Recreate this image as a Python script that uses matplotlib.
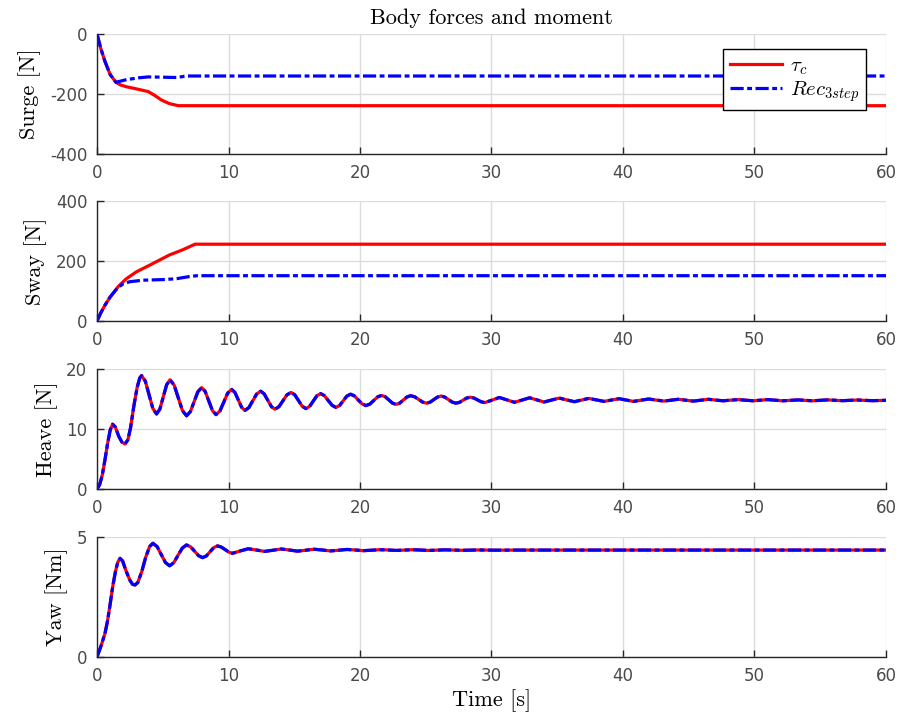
import numpy as np
import matplotlib
matplotlib.use("Agg")
import matplotlib.pyplot as plt

plt.rcParams['mathtext.fontset'] = 'cm'
plt.rcParams['lines.scale_dashes'] = False
plt.rcParams['axes.unicode_minus'] = False

# surge [N]
surge_t_tau = [0, 0.3, 0.61, 1.0, 1.44, 1.8, 2.25, 3.0, 3.9, 4.4, 4.9, 5.5, 6.18, 60]
surge_tau = [0, -50, -92, -135, -161, -170, -176, -183, -192, -205, -220, -232, -239, -239]
surge_t_rec = [0, 0.3, 0.61, 1.0, 1.44, 2.25, 3.2, 3.9, 5.0, 6.05, 6.8, 7.3, 60]
surge_rec = [0, -50, -92, -135, -161, -152, -146, -143, -144, -145, -140, -140, -140]

# sway [N]
sway_t_tau = [0, 0.3, 0.61, 1.0, 1.6, 2.2, 3.0, 4.0, 5.5, 6.5, 7.45, 60]
sway_tau = [0, 28, 53, 80, 114, 140, 164, 186, 220, 237, 256, 256]
sway_t_rec = [0, 0.3, 0.61, 1.0, 1.6, 2.0, 2.5, 3.5, 5.0, 6.06, 7.0, 7.6, 60]
sway_rec = [0, 28, 53, 80, 112, 124, 131, 136, 138, 141, 148, 151, 151]

# heave [N] (both signals overlap)
heave_t = [0, 0.2, 0.4, 0.6, 0.8, 1.0, 1.19, 1.4, 1.65, 1.9, 2.13, 2.35, 2.55, 2.8, 3.05, 3.25, 3.39,
           3.675, 3.96, 4.245, 4.53, 4.785, 5.04, 5.295, 5.55, 5.865, 6.18, 6.495, 6.81,
           7.1, 7.385, 7.67, 7.96, 8.23, 8.505, 8.78, 9.05, 9.35, 9.645, 9.94, 10.24,
           10.49, 10.745, 11.0, 11.25, 11.55, 11.845, 12.14, 12.44, 12.71, 12.985, 13.26, 13.53,
           13.835, 14.14, 14.445, 14.75, 15.035, 15.32, 15.605, 15.89, 16.17, 16.445, 16.72, 17.0,
           17.29, 17.585, 17.88, 18.17, 18.45, 18.725, 19.0, 19.28, 19.57, 19.865, 20.16, 20.45,
           20.75, 21.045, 21.34, 21.64, 21.915, 22.19, 22.465, 22.74, 23.02, 23.295, 23.57, 23.85,
           24.155, 24.46, 24.765, 25.07, 25.34, 25.615, 25.89, 26.16, 26.445, 26.73, 27.015, 27.3,
           27.57, 27.835, 28.1, 28.37, 28.65, 28.935, 29.22, 29.5,
           30.05, 30.6, 31.175, 31.75, 32.33, 32.9, 33.45, 34.0, 34.58, 35.15, 35.73, 36.3,
           36.85, 37.4, 37.98, 38.55, 39.13, 39.7, 40.25, 40.8, 41.38, 41.95, 42.53, 43.1,
           43.65, 44.2, 45.35, 46.5, 47.6, 48.75, 49.9, 51.0, 52.15, 53.3, 54.4, 55.55,
           56.7, 57.8, 58.95, 60]
heave = [0, 0.7, 2.3, 4.8, 7.5, 9.8, 10.8, 10.3, 8.8, 7.8, 7.5, 8.2, 10.2, 13.8, 16.9, 18.5, 18.9,
         17.97, 15.7, 13.43, 12.5, 13.33, 15.35, 17.37, 18.2, 17.32, 15.2, 13.08, 12.2,
         12.89, 14.55, 16.21, 16.9, 16.24, 14.65, 13.06, 12.4, 13.01, 14.5, 15.99, 16.6,
         16.09, 14.85, 13.61, 13.1, 13.57, 14.7, 15.83, 16.3, 15.86, 14.8, 13.74, 13.3,
         13.71, 14.7, 15.69, 16.1, 15.71, 14.75, 13.79, 13.4, 13.77, 14.65, 15.54, 15.9,
         15.56, 14.75, 13.94, 13.6, 13.92, 14.7, 15.48, 15.8, 15.52, 14.85, 14.18, 13.9,
         14.15, 14.75, 15.35, 15.6, 15.38, 14.85, 14.32, 14.1, 14.31, 14.83, 15.34, 15.55,
         15.37, 14.93, 14.48, 14.3, 14.48, 14.9, 15.32, 15.5, 15.32, 14.9, 14.48, 14.3,
         14.45, 14.8, 15.15, 15.3, 15.17, 14.85, 14.53, 14.4,
         14.83, 15.25, 14.85, 14.45, 14.83, 15.2, 14.85, 14.5, 14.83, 15.15, 14.85, 14.55,
         14.83, 15.1, 14.85, 14.6, 14.83, 15.05, 14.83, 14.6, 14.8, 15.0, 14.83, 14.65,
         14.8, 14.95, 14.65, 14.95, 14.7, 14.9, 14.7, 14.9, 14.7, 14.85, 14.7, 14.85,
         14.72, 14.83, 14.72, 14.78]

# yaw [Nm] (both signals overlap)
yaw_t = [0, 0.3, 0.61, 0.8, 1.0, 1.2, 1.4, 1.58, 1.75, 1.95, 2.2, 2.5, 2.7, 2.89, 3.1, 3.4, 3.7, 4.0, 4.25,
         4.57, 4.885, 5.2, 5.52, 5.84, 6.165, 6.49, 6.81, 7.115, 7.42, 7.725, 8.03,
         8.315, 8.6, 8.885, 9.17, 9.45, 9.735, 10.02, 10.3, 10.9, 11.5, 12.1, 12.75, 13.4, 14.0,
         14.6, 15.25, 15.9, 16.5, 17.1, 17.75, 18.4, 19.0, 19.6, 20.25, 20.9, 21.5, 22.1, 22.75,
         24.0, 25.25, 26.5, 27.75, 29.0, 30.25, 32.0, 60]
yaw = [0, 0.45, 0.99, 1.5, 2.2, 2.95, 3.55, 3.95, 4.11, 4.0, 3.6, 3.2, 3.03, 3.0, 3.1, 3.55, 4.15, 4.6, 4.74,
       4.6, 4.27, 3.94, 3.8, 3.93, 4.24, 4.54, 4.67, 4.59, 4.41, 4.22, 4.14,
       4.21, 4.39, 4.56, 4.63, 4.58, 4.48, 4.37, 4.32, 4.42, 4.51, 4.46, 4.4, 4.45, 4.5,
       4.46, 4.41, 4.45, 4.49, 4.46, 4.42, 4.45, 4.48, 4.46, 4.43, 4.45, 4.47, 4.46, 4.44,
       4.47, 4.44, 4.465, 4.445, 4.46, 4.45, 4.455, 4.455]

panels = [
    ("Surge [N]", surge_t_tau, surge_tau, surge_t_rec, surge_rec, (-400, 0), [-400, -200, 0]),
    ("Sway [N]", sway_t_tau, sway_tau, sway_t_rec, sway_rec, (0, 400), [0, 200, 400]),
    ("Heave [N]", heave_t, heave, heave_t, heave, (0, 20), [0, 10, 20]),
    ("Yaw [Nm]", yaw_t, yaw, yaw_t, yaw, (0, 5), [0, 5]),
]

W, H = 899, 718
fig = plt.figure(figsize=(W / 100, H / 100), dpi=100)
left, right = 97, 886
tops = [34, 201, 369, 537]
ph = 120
dark = '#262626'
serif = 'cmr10'

axes = []
for i, (lab, tt, yt, tr, yr, ylim, yticks) in enumerate(panels):
    ax = fig.add_axes([left / W, 1 - (tops[i] + ph) / H, (right - left) / W, ph / H])
    ax.plot(tt, yt, color='red', lw=2.3, label=r'$\tau_c$')
    ax.plot(tr, yr, color='blue', lw=2.3, linestyle=(0, (9.5, 2.5, 3.5, 2.5)),
            label=r'$Rec_{3step}$')
    ax.set_xlim(0, 60)
    ax.set_ylim(*ylim)
    ax.set_xticks(range(0, 61, 10))
    ax.set_yticks(yticks)
    ax.grid(True, color='#dcdcdc', lw=1)
    ax.set_axisbelow(True)
    for s in ['top', 'right']:
        ax.spines[s].set_visible(False)
    for s in ['left', 'bottom']:
        ax.spines[s].set_color(dark)
        ax.spines[s].set_linewidth(1)
    ax.tick_params(direction='in', length=5, width=1, color=dark, labelcolor='#4a4a4a', pad=7)
    for t in ax.get_xticklabels() + ax.get_yticklabels():
        t.set_fontfamily('DejaVu Sans')
        t.set_fontsize(12)
    ax.set_ylabel(lab, fontfamily=serif, fontsize=16, labelpad=6)
    axes.append(ax)
    if i == 0:
        ax.set_title("Body forces and moment", fontfamily=serif, fontsize=16, pad=7)
        leg = ax.legend(loc='upper right', bbox_to_anchor=(0.9747, 0.875), borderaxespad=0,
                        fancybox=False, edgecolor='black', framealpha=1, fontsize=15,
                        handlelength=2.5, handletextpad=0.4, borderpad=0.3, labelspacing=0.1)
        leg.get_frame().set_linewidth(1)

axes[-1].set_xlabel("Time [s]", fontfamily=serif, fontsize=16, labelpad=3)

fig.savefig("out.png", dpi=100)
